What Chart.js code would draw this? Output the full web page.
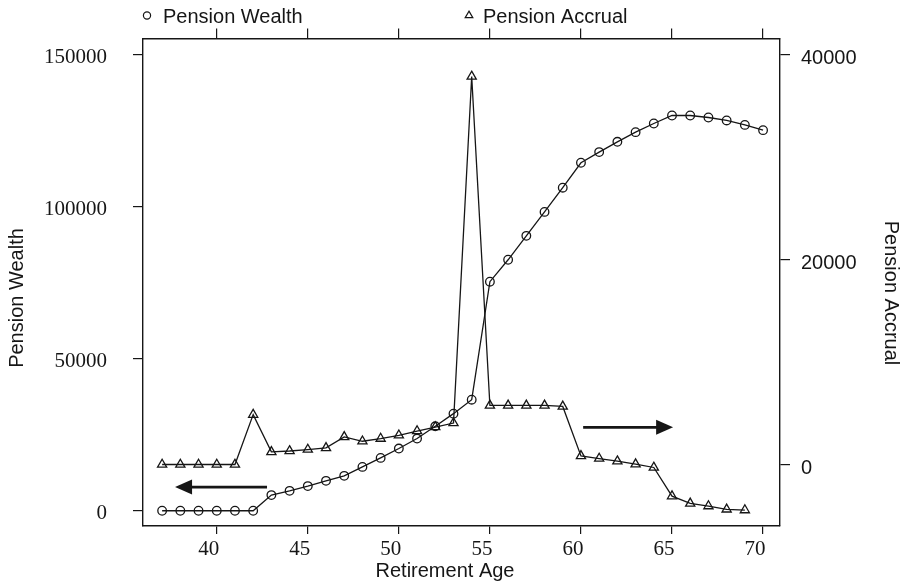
<!DOCTYPE html>
<html>
<head>
<meta charset="utf-8">
<script src="https://cdn.jsdelivr.net/npm/chart.js@4.4.1/dist/chart.umd.min.js"></script>
<style>
  html, body { margin: 0; padding: 0; background: #ffffff; }
  canvas { display: block; }
</style>
</head>
<body>
<canvas id="chart" width="908" height="582"></canvas>
<script>
// Retirement ages and the two series plotted against them
const wealthAges = [37,38,39,40,41,42,43,44,45,46,47,48,49,50,51,52,53,54,55,56,57,58,59,60,61,62,63,64,65,66,67,68,69,70];
const pensionWealth = [0,0,0,0,0,0,5150,6550,8100,9830,11470,14420,17370,20450,23730,27760,31920,36510,
  75290,82500,90360,98230,106190,114390,117900,121270,124450,127300,129920,129920,129270,128290,126840,125110];

const accrualAges = [37,38,39,40,41,42,43,44,45,46,47,48,49,50,51,52,53,54,55,56,57,58,59,60,61,62,63,64,65,66,67,68,69];
const pensionAccrual = [0,0,0,0,0,4870,1230,1320,1460,1620,2690,2270,2530,2850,3270,3660,4050,37890,
  5770,5770,5770,5770,5670,840,580,320,30,-290,-3090,-3800,-4060,-4380,-4450];

// Tick values for each axis
const ageTicks = [40,45,50,55,60,65,70];
const wealthTicks = [0,50000,100000,150000];
const accrualTicks = [0,20000,40000];

const INK = '#161616';

// Direction arrows: which series each arrow points to, in axis units
const arrows = [
  { axis: 'yW', fromX: 42.76, toX: 37.71, y: 7770 },
  { axis: 'yA', fromX: 60.12, toX: 65.06, y: 3630 }
];

const toPoints = (xs, ys) => xs.map((x, i) => ({ x: x, y: ys[i] }));

const fixedSize = (prop, size) => (scale) => { scale[prop] = size; };
const useTicks = (values) => (scale) => { scale.ticks = values.map(v => ({ value: v })); };

const decorations = {
  id: 'decorations',
  afterDraw(chart) {
    const ctx = chart.ctx;
    const sx = chart.scales.x;
    ctx.save();
    ctx.fillStyle = INK;
    ctx.strokeStyle = INK;

    // arrows
    arrows.forEach(a => {
      const sy = chart.scales[a.axis];
      const x0 = sx.getPixelForValue(a.fromX);
      const x1 = sx.getPixelForValue(a.toX);
      const y = sy.getPixelForValue(a.y);
      const dir = Math.sign(x1 - x0);
      const head = 17, half = 7.5;
      ctx.lineWidth = 2.6;
      ctx.beginPath();
      ctx.moveTo(x0, y);
      ctx.lineTo(x1 - dir * head + dir * 2, y);
      ctx.stroke();
      ctx.beginPath();
      ctx.moveTo(x1, y);
      ctx.lineTo(x1 - dir * head, y - half);
      ctx.lineTo(x1 - dir * head, y + half);
      ctx.closePath();
      ctx.fill();
    });

    // legend along the top edge
    const ds = chart.data.datasets;
    const legendItems = [
      { d: ds[0], mx: 147, tx: 163 },
      { d: ds[1], mx: 469, tx: 483 }
    ];
    ctx.font = '20px "Liberation Sans", Arial, sans-serif';
    ctx.textBaseline = 'middle';
    ctx.textAlign = 'left';
    legendItems.forEach(it => {
      ctx.lineWidth = 1.2;
      ctx.strokeStyle = INK;
      ctx.fillStyle = 'rgba(0,0,0,0)';
      Chart.helpers.drawPoint(ctx, {
        pointStyle: it.d.pointStyle,
        radius: it.d.pointStyle === 'circle' ? 3.6 : 4.4,
        rotation: 0,
        borderWidth: 1.2
      }, it.mx, 15.5);
      ctx.fillStyle = INK;
      ctx.fillText(it.d.label, it.tx, 17);
    });

    // axis titles
    ctx.fillStyle = INK;
    ctx.textAlign = 'center';
    ctx.textBaseline = 'middle';
    ctx.fillText('Retirement Age', 445, 571);

    ctx.save();
    ctx.translate(17, 298);
    ctx.rotate(-Math.PI / 2);
    ctx.fillText('Pension Wealth', 0, 0);
    ctx.restore();

    ctx.save();
    ctx.translate(891, 293);
    ctx.rotate(Math.PI / 2);
    ctx.fillText('Pension Accrual', 0, 0);
    ctx.restore();

    ctx.restore();
  }
};

const frameBorder = { display: true, color: INK, width: 1.4 };

new Chart(document.getElementById('chart'), {
  type: 'line',
  data: {
    datasets: [
      {
        label: 'Pension Wealth',
        data: toPoints(wealthAges, pensionWealth),
        yAxisID: 'yW',
        borderColor: INK,
        borderWidth: 1.3,
        pointStyle: 'circle',
        pointRadius: 4.3,
        pointBorderWidth: 1.3,
        pointBorderColor: INK,
        pointBackgroundColor: 'rgba(0,0,0,0)',
        tension: 0
      },
      {
        label: 'Pension Accrual',
        data: toPoints(accrualAges, pensionAccrual),
        yAxisID: 'yA',
        borderColor: INK,
        borderWidth: 1.3,
        pointStyle: 'triangle',
        pointRadius: 5.3,
        pointBorderWidth: 1.3,
        pointBorderColor: INK,
        pointBackgroundColor: 'rgba(0,0,0,0)',
        tension: 0
      }
    ]
  },
  options: {
    responsive: false,
    animation: false,
    devicePixelRatio: 1,
    layout: { padding: 0 },
    plugins: {
      legend: { display: false },
      tooltip: { enabled: false }
    },
    scales: {
      x: {
        type: 'linear',
        position: 'bottom',
        min: 35.95,
        max: 70.93,
        afterBuildTicks: useTicks(ageTicks),
        afterFit: fixedSize('height', 56),
        border: frameBorder,
        grid: { drawOnChartArea: false, drawTicks: true, tickLength: 8, color: INK, lineWidth: 1.2 },
        ticks: {
          color: INK,
          padding: 3,
          labelOffset: -8,
          maxRotation: 0,
          font: { family: '"Liberation Serif", "Times New Roman", serif', size: 21 },
          callback: v => String(v)
        }
      },
      xTop: {
        type: 'linear',
        position: 'top',
        min: 35.95,
        max: 70.93,
        afterBuildTicks: useTicks(ageTicks),
        afterFit: fixedSize('height', 37),
        border: frameBorder,
        grid: { drawOnChartArea: false, drawTicks: true, tickLength: 10, color: INK, lineWidth: 1.2 },
        ticks: { display: false }
      },
      yW: {
        type: 'linear',
        position: 'left',
        min: -5010,
        max: 155200,
        afterBuildTicks: useTicks(wealthTicks),
        afterFit: fixedSize('width', 143),
        border: frameBorder,
        grid: { drawOnChartArea: false, drawTicks: true, tickLength: 10, color: INK, lineWidth: 1.2 },
        ticks: {
          color: INK,
          padding: 26,
          labelOffset: 3,
          font: { family: '"Liberation Serif", "Times New Roman", serif', size: 21 },
          callback: v => String(v)
        }
      },
      yA: {
        type: 'linear',
        position: 'right',
        min: -6005,
        max: 41590,
        afterBuildTicks: useTicks(accrualTicks),
        afterFit: fixedSize('width', 128),
        border: frameBorder,
        grid: { drawOnChartArea: false, drawTicks: true, tickLength: 10, color: INK, lineWidth: 1.2 },
        ticks: {
          color: INK,
          padding: 11,
          labelOffset: 4,
          font: { family: '"Liberation Sans", Arial, sans-serif', size: 20 },
          callback: v => String(v)
        }
      }
    }
  },
  plugins: [decorations]
});
</script>
</body>
</html>
